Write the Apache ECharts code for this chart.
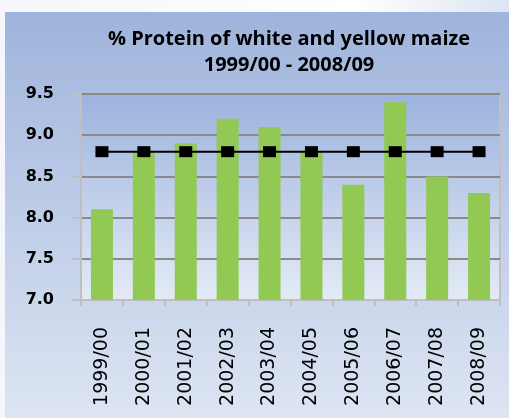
<!DOCTYPE html>
<html>
<head>
<meta charset="utf-8">
<script src="https://cdn.jsdelivr.net/npm/echarts@6/dist/echarts.min.js"></script>
<style>
  html, body { margin: 0; padding: 0; }
  #chart { width: 509px; height: 418px; }
</style>
</head>
<body>
<div id="chart"></div>
<script>
// seasons on the x axis
var seasons = ['1999/00', '2000/01', '2001/02', '2002/03', '2003/04',
  '2004/05', '2005/06', '2006/07', '2007/08', '2008/09'];
// % protein per season (bars)
var protein = [8.1, 8.8, 8.9, 9.2, 9.1, 8.8, 8.4, 9.4, 8.5, 8.3];
// average line
var average = [8.8, 8.8, 8.8, 8.8, 8.8, 8.8, 8.8, 8.8, 8.8, 8.8];

var chart = echarts.init(document.getElementById('chart'));

chart.setOption({
  animation: false,
  backgroundColor: new echarts.graphic.LinearGradient(0, 0, 1, 0, [
    { offset: 0, color: '#f4f6fb' },
    { offset: 0.7, color: '#ffffff' },
    { offset: 1, color: '#dde4f2' }
  ]),
  graphic: [{
    type: 'rect',
    z: -10,
    shape: { x: 5, y: 12, width: 504, height: 406 },
    style: {
      fill: new echarts.graphic.LinearGradient(0, 0, 0, 1, [
        { offset: 0, color: '#9fb4dc' },
        { offset: 1, color: '#dde5f3' }
      ])
    }
  }],
  title: {
    text: '% Protein of white and yellow maize\n1999/00 - 2008/09',
    left: 284,
    top: 21,
    textAlign: 'center',
    textStyle: {
      fontFamily: 'Open Sans',
      fontWeight: 'bold',
      fontSize: 20,
      lineHeight: 26,
      color: '#000'
    }
  },
  grid: {
    left: 81,
    right: 9,
    top: 94,
    bottom: 118,
    show: true,
    borderColor: '#c0c0c0',
    borderWidth: 2,
    backgroundColor: new echarts.graphic.LinearGradient(0, 0, 0, 1, [
      { offset: 0, color: '#9cb2dd' },
      { offset: 1, color: '#e4ebf6' }
    ])
  },
  xAxis: {
    type: 'category',
    data: seasons,
    axisLine: { lineStyle: { color: '#bfbfbf', width: 2 } },
    axisTick: { show: true, length: 6, lineStyle: { color: '#bfbfbf', width: 2 } },
    axisLabel: {
      rotate: 90,
      margin: 27,
      fontFamily: 'DejaVu Sans',
      fontSize: 19,
      color: '#000'
    }
  },
  yAxis: {
    type: 'value',
    min: 7,
    max: 9.5,
    interval: 0.5,
    axisLine: { show: true, lineStyle: { color: '#bfbfbf', width: 2 } },
    axisTick: { show: true, length: 9, lineStyle: { color: '#bfbfbf', width: 2 } },
    splitLine: { lineStyle: { color: '#8a8a8a', width: 2 } },
    axisLabel: {
      margin: 27,
      fontFamily: 'DejaVu Sans',
      fontWeight: 'bold',
      fontSize: 16,
      color: '#000',
      formatter: function (v) { return v.toFixed(1); }
    }
  },
  series: [{
    type: 'bar',
    data: protein,
    barWidth: 22,
    itemStyle: { color: '#92c854' }
  }, {
    type: 'line',
    data: average,
    symbol: 'rect',
    symbolSize: [13, 11],
    lineStyle: { color: '#000', width: 2 },
    itemStyle: { color: '#000' },
    z: 5
  }]
});
</script>
</body>
</html>
